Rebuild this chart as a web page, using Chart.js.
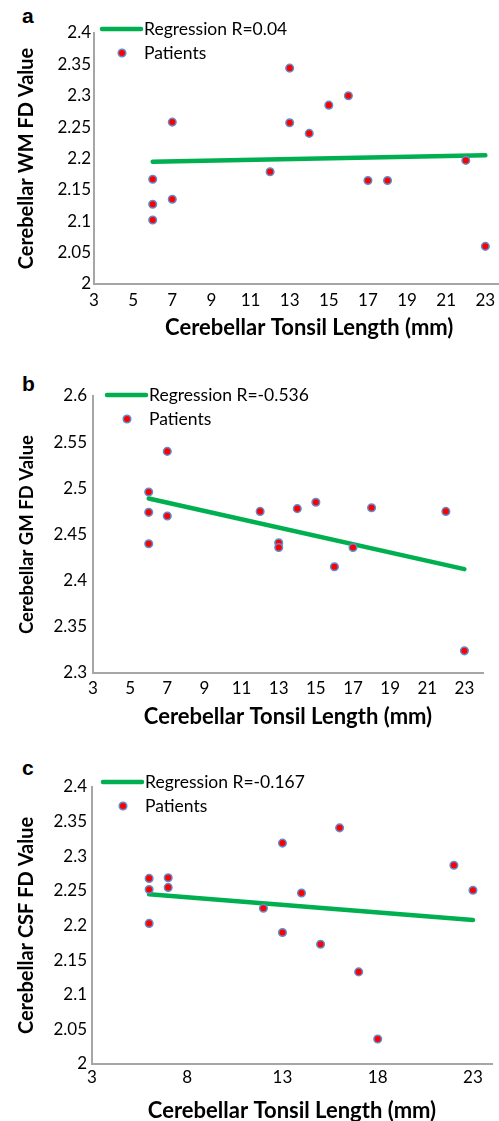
<!DOCTYPE html>
<html>
<head>
<meta charset="utf-8">
<script src="https://cdn.jsdelivr.net/npm/chart.js@4.4.0/dist/chart.umd.min.js"></script>
<style>
  html, body { margin: 0; padding: 0; background: #fff; overflow: hidden; width: 499px; height: 1121px; }
  .panel { position: absolute; left: 0; }
  .letter { position: absolute; font: bold 21px "Liberation Sans", Arial, sans-serif; color: #000; }
</style>
</head>
<body>
<div class="letter" style="left:22px; top:4px;">a</div>
<div class="letter" style="left:22px; top:372px;">b</div>
<div class="letter" style="left:22px; top:756px;">c</div>
<canvas id="chartA" class="panel" style="top:0px;" width="530" height="341"></canvas>
<canvas id="chartB" class="panel" style="top:350px;" width="499" height="380"></canvas>
<canvas id="chartC" class="panel" style="top:740px;" width="499" height="384"></canvas>
<script>
// tonsil length (mm) of each patient, same order in every panel
const tonsilLength = [6, 6, 6, 7, 7, 12, 13, 13, 14, 15, 16, 17, 18, 22, 23];

// fractal dimension values
const wmFD  = [2.167, 2.127, 2.102, 2.258, 2.135, 2.179, 2.344, 2.257, 2.240, 2.285, 2.300, 2.165, 2.165, 2.197, 2.060];
const gmFD  = [2.496, 2.474, 2.440, 2.540, 2.470, 2.475, 2.441, 2.436, 2.478, 2.485, 2.415, 2.436, 2.479, 2.475, 2.324];
const csfFD = [2.268, 2.252, 2.203, 2.269, 2.255, 2.225, 2.319, 2.190, 2.247, 2.173, 2.341, 2.133, 2.036, 2.287, 2.251];

// regression line end points
const fitX   = [6, 23];
const wmFit  = [2.195, 2.205];
const gmFit  = [2.489, 2.4125];
const csfFit = [2.245, 2.208];

const regLabels = ['Regression R=0.04', 'Regression R=-0.536', 'Regression R=-0.167'];

// tick labels
const xTicksAB = [3, 5, 7, 9, 11, 13, 15, 17, 19, 21, 23];
const xTicksC  = [3, 8, 13, 18, 23];
const yTicksAC = [2, 2.05, 2.1, 2.15, 2.2, 2.25, 2.3, 2.35, 2.4];
const yTicksB  = [2.3, 2.35, 2.4, 2.45, 2.5, 2.55, 2.6];

const xTitle = 'Cerebellar Tonsil Length (mm)';

const greenLine = '#00b050';
const dotFill = '#ff0000';
const dotEdge = '#5b8fd0';
const axisGrey = '#a6a6a6';

// legend drawn inside the plot, like the original
const insideLegend = {
  id: 'insideLegend',
  afterDraw(chart, args, opts) {
    const ctx = chart.ctx;
    const a = chart.chartArea;
    const x0 = a.left + opts.dx;
    const y0 = a.top + opts.dy;
    const ds = chart.data.datasets;
    ctx.save();
    ctx.strokeStyle = greenLine;
    ctx.lineWidth = 4.5;
    ctx.lineCap = 'round';
    ctx.beginPath();
    ctx.moveTo(x0, y0);
    ctx.lineTo(x0 + 39, y0);
    ctx.stroke();
    ctx.beginPath();
    ctx.arc(x0 + 20, y0 + 24, 3.8, 0, Math.PI * 2);
    ctx.fillStyle = dotFill;
    ctx.fill();
    ctx.lineWidth = 1.5;
    ctx.strokeStyle = dotEdge;
    ctx.stroke();
    ctx.fillStyle = '#000';
    ctx.font = '17.5px Lato';
    ctx.textBaseline = 'middle';
    ctx.fillText(ds[1].label, x0 + 42, y0);
    ctx.fillText(ds[0].label, x0 + 42, y0 + 24);
    ctx.restore();
  }
};

function toPoints(xs, ys) {
  return xs.map(function(x, i){ return {x: x, y: ys[i]}; });
}

function makePanel(id, p) {
  return new Chart(document.getElementById(id), {
    type: 'scatter',
    data: {
      datasets: [
        {
          label: 'Patients',
          data: toPoints(tonsilLength, p.fd),
          pointRadius: 3.8,
          pointBackgroundColor: dotFill,
          pointBorderColor: dotEdge,
          pointBorderWidth: 1.5,
          showLine: false
        },
        {
          label: p.regLabel,
          type: 'line',
          data: toPoints(fitX, p.fit),
          borderColor: greenLine,
          borderWidth: 4.5,
          borderCapStyle: 'round',
          pointRadius: 0,
          fill: false
        }
      ]
    },
    options: {
      responsive: false,
      animation: false,
      events: [],
      layout: { padding: { top: p.padTop, right: p.padRight, left: 0, bottom: 0 } },
      plugins: {
        legend: { display: false },
        tooltip: { enabled: false },
        insideLegend: { dx: p.legDx, dy: p.legDy }
      },
      scales: {
        x: {
          type: 'linear',
          min: 3,
          max: p.xMax,
          afterBuildTicks: function(s){ s.ticks = p.xTicks.map(function(v){ return {value: v}; }); },
          afterFit: function(s){ s.height = p.xAxisH; },
          grid: { display: false, drawTicks: false },
          border: { display: true, color: axisGrey, width: 2 },
          ticks: { padding: p.xTickPad, color: '#000', font: { family: 'Lato', size: 17 },
                   callback: function(v){ return String(v); } },
          title: { display: true, text: xTitle, color: '#000', padding: 0,
                   font: { family: 'Lato', size: 22, weight: 'bold' } }
        },
        y: {
          type: 'linear',
          min: p.yTicks[0],
          max: p.yTicks[p.yTicks.length - 1],
          afterBuildTicks: function(s){ s.ticks = p.yTicks.map(function(v){ return {value: v}; }); },
          afterFit: function(s){ s.width = p.yAxisW; },
          grid: { display: false, drawTicks: false },
          border: { display: true, color: axisGrey, width: 2 },
          ticks: { padding: p.yTickPad, color: '#000', font: { family: 'Lato', size: 17 },
                   callback: function(v){ return String(+v.toFixed(2)); } },
          title: { display: true, text: p.yTitle, color: '#000', padding: { top: p.yTitlePad, bottom: 0 },
                   font: { family: 'Lato', size: p.yTitleSize, weight: 'bold' } }
        }
      }
    },
    plugins: [insideLegend]
  });
}

makePanel('chartA', {
  fd: wmFD, fit: wmFit, regLabel: regLabels[0], yTitle: 'Cerebellar WM FD Value',
  xTicks: xTicksAB, yTicks: yTicksAC, xMax: 25,
  padTop: 33, padRight: 5, xAxisH: 57, yAxisW: 94, xTickPad: 6, yTickPad: 3,
  yTitleSize: 20, yTitlePad: 15, legDx: 8, legDy: -4
});

makePanel('chartB', {
  fd: gmFD, fit: gmFit, regLabel: regLabels[1], yTitle: 'Cerebellar GM FD Value',
  xTicks: xTicksAB, yTicks: yTicksB, xMax: 24,
  padTop: 46, padRight: 16, xAxisH: 57, yAxisW: 93, xTickPad: 5, yTickPad: 6,
  yTitleSize: 18.5, yTitlePad: 16, legDx: 14, legDy: -1
});

makePanel('chartC', {
  fd: csfFD, fit: csfFit, regLabel: regLabels[2], yTitle: 'Cerebellar CSF FD Value',
  xTicks: xTicksC, yTicks: yTicksAC, xMax: 24,
  padTop: 47, padRight: 7, xAxisH: 60, yAxisW: 92, xTickPad: 3, yTickPad: 5,
  yTitleSize: 20, yTitlePad: 15, legDx: 11, legDy: -5
});
</script>
</body>
</html>
